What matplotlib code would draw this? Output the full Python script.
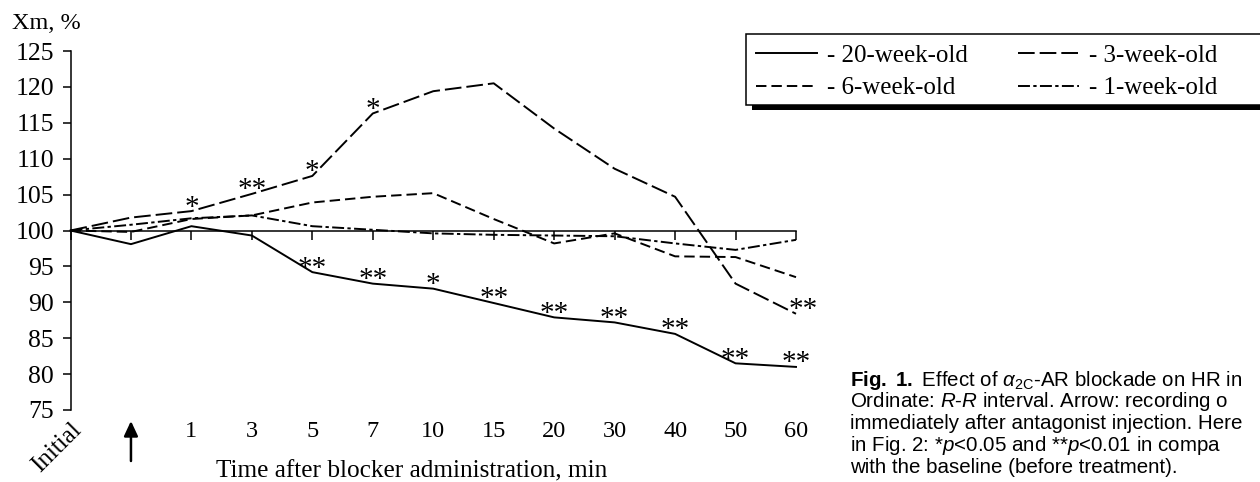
import matplotlib
matplotlib.use("Agg")
import matplotlib.pyplot as plt
from matplotlib.patches import Rectangle
from matplotlib.transforms import blended_transform_factory

plt.rcParams['font.family'] = ['Liberation Serif', 'DejaVu Serif']
plt.rcParams['mathtext.fontset'] = 'custom'
plt.rcParams['mathtext.rm'] = 'Liberation Sans'
plt.rcParams['mathtext.it'] = 'Liberation Sans:italic'
plt.rcParams['mathtext.bf'] = 'Liberation Sans:bold'
plt.rcParams['lines.scale_dashes'] = False

# ---------------- data ----------------
time_labels = ["Initial", "", "1", "3", "5", "7", "10", "15", "20", "30", "40", "50", "60"]
wk20 = [100, 98.1, 100.6, 99.3, 94.2, 92.6, 91.9, 89.9, 87.9, 87.2, 85.6, 81.5, 81.0]
wk3 = [100, 101.8, 102.7, 105.1, 107.6, 116.3, 119.4, 120.5, 114.2, 108.6, 104.7, 92.6, 88.4]
wk6 = [100, 99.8, 101.6, 102.1, 103.9, 104.7, 105.2, 101.6, 98.2, 99.6, 96.4, 96.3, 93.5]
wk1 = [100, 100.8, 101.7, 102.1, 100.6, 100.1, 99.6, 99.4, 99.3, 99.2, 98.2, 97.3, 98.7]
series_names = ["- 20-week-old", "- 6-week-old", "- 3-week-old", "- 1-week-old"]
# significance marks: (time index, mark)
marks_wk3 = [(2, "*"), (3, "**"), (4, "*"), (5, "*"), (12, "**")]
marks_wk20 = [(4, "**"), (5, "**"), (6, "*"), (7, "**"), (8, "**"), (9, "**"),
              (10, "**"), (11, "**"), (12, "**")]
yticks = [75, 80, 85, 90, 95, 100, 105, 110, 115, 120, 125]

W, H = 1260, 482
fig = plt.figure(figsize=(W / 100, H / 100), dpi=100)
ax = fig.add_axes([70.5 / W, 1 - 410 / H, (796 - 70.5) / W, (410 - 51) / H])

x = list(range(len(time_labels)))
lw = 1.4
ls20 = '-'
ls3 = (0, (12, 3.6))
ls6 = (0, (7.5, 3.6))
ls1 = (0, (8.6, 2.4, 2.4, 2.4))
h20, = ax.plot(x, wk20, color='black', lw=lw, ls=ls20, clip_on=False)
h6, = ax.plot(x, wk6, color='black', lw=lw, ls=ls6, clip_on=False)
h3, = ax.plot(x, wk3, color='black', lw=lw, ls=ls3, clip_on=False)
h1, = ax.plot(x, wk1, color='black', lw=lw, ls=ls1, clip_on=False)

ax.set_xlim(0, len(time_labels) - 1)
ax.set_ylim(75, 125)
ax.set_yticks(yticks)
ax.tick_params(axis='y', direction='out', length=6, width=1.1, labelsize=18.5, pad=6)
for s in ['top', 'right']:
    ax.spines[s].set_visible(False)
ax.spines['left'].set_linewidth(1.1)
ax.spines['bottom'].set_position(('data', 100))
ax.spines['bottom'].set_linewidth(1.1)
ax.set_xticks(x)
ax.set_xticklabels(["", ""] + time_labels[2:])
ax.tick_params(axis='x', direction='out', length=6.5, width=1.1, labelsize=17.5, pad=131)

# "Initial" rotated label and arrow
btr = blended_transform_factory(ax.transData, fig.transFigure)
ax.text(x[0] + 0.0, 1 - 419 / H, time_labels[0], transform=btr, rotation=45,
        rotation_mode='anchor', ha='right', va='top', fontsize=18)
ax.annotate("", xy=(x[1], 1 - 421 / H), xytext=(x[1], 1 - 461 / H),
            xycoords=btr, textcoords=btr,
            arrowprops=dict(arrowstyle='-|>,head_length=0.9,head_width=0.42',
                            color='black', lw=1.8, shrinkA=0, shrinkB=0))

# significance marks
for series, marks in ((wk3, marks_wk3), (wk20, marks_wk20)):
    for i, m in marks:
        dx = 5 if (series is wk3 and i == len(x) - 1) else 0
        ax.annotate(m, xy=(x[i], series[i]), xytext=(dx, -2.5), textcoords='offset points',
                    ha='center', va='baseline', fontsize=21, annotation_clip=False)

# axis titles
fig.text(12 / W, 1 - 29 / H, "Xm, %", fontsize=17.5, ha='left', va='baseline')
fig.text(412 / W, 1 - 471 / H, "Time after blocker administration, min",
         fontsize=18.2, ha='center', va='center')

# legend frame with shadow
fig.patches.append(Rectangle((752 / W, 1 - 110 / H), 600 / W, 76 / H,
                             transform=fig.transFigure, facecolor='black',
                             edgecolor='none', zorder=1))
fig.patches.append(Rectangle((746 / W, 1 - 105 / H), 600 / W, 71 / H,
                             transform=fig.transFigure, facecolor='white',
                             edgecolor='black', lw=1.1, zorder=2))
leg = fig.legend([h20, h6, h3, h1], series_names, ncol=2, frameon=False,
                 loc='upper left', bbox_to_anchor=(756 / W, 1 - 44 / H),
                 fontsize=18, handlelength=2.44, handletextpad=0.4,
                 columnspacing=2.0, labelspacing=0.42, borderpad=0.0,
                 borderaxespad=0.0)
leg.set_zorder(3)

# caption (as much as is visible in the reference, which is cut at the right edge)
cap_lines = [
    r"$\mathbf{Fig.\ 1.}$ Effect of $\alpha_{\mathrm{2C}}$-AR blockade on HR in",
    r"Ordinate: $R$-$R$ interval. Arrow: recording o",
    r"immediately after antagonist injection. Here",
    r"in Fig. 2: *$p$<0.05 and **$p$<0.01 in compa",
    r"with the baseline (before treatment).",
]
for k, line in enumerate(cap_lines):
    fig.text(850 / W, 1 - (380 + 21.8 * k) / H, line, fontsize=14.8,
             family='Liberation Sans', ha='left', va='center')

fig.savefig("out.png", dpi=100)
